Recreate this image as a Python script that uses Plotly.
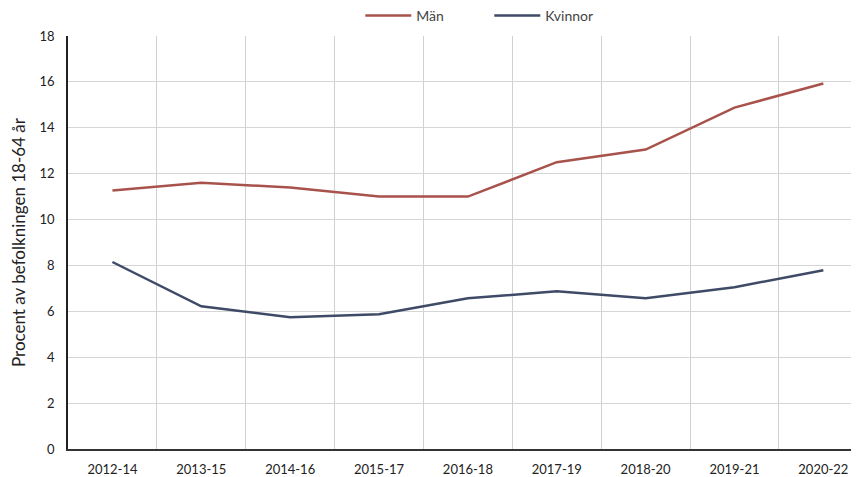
import plotly.graph_objects as go

categories = ["2012-14", "2013-15", "2014-16", "2015-17", "2016-18",
              "2017-19", "2018-20", "2019-21", "2020-22"]
man = [11.27, 11.6, 11.4, 11.0, 11.0, 12.5, 13.05, 14.88, 15.93]
kvinnor = [8.15, 6.22, 5.74, 5.87, 6.57, 6.87, 6.57, 7.05, 7.79]

FONT = "Lato"
fig = go.Figure()
fig.add_trace(go.Scatter(x=categories, y=man, name="Män", mode="lines",
                         line=dict(color="#a8524c", width=2.5)))
fig.add_trace(go.Scatter(x=categories, y=kvinnor, name="Kvinnor", mode="lines",
                         line=dict(color="#3e4a66", width=2.5)))

# page body has an 8px margin: figure is offset by 8px right/down
fig.update_layout(
    width=851, height=469,
    margin=dict(l=60, r=1, t=28, b=28, autoexpand=False),
    paper_bgcolor="white", plot_bgcolor="white",
    font=dict(family=FONT, size=13, color="#222222"),
    showlegend=True,
    legend=dict(orientation="h", x=0.37, xanchor="left", y=1.01, yanchor="bottom",
                font=dict(size=14, color="#444444"), itemwidth=46,
                entrywidth=68, entrywidthmode="pixels",
                bgcolor="rgba(0,0,0,0)"),
    xaxis=dict(type="category", range=[-0.5, 8.39], tickson="boundaries",
               showgrid=True, gridcolor="#d0d0d0", gridwidth=1,
               showline=True, linecolor="#333333", linewidth=1.5,
               ticks="", ticklabelstandoff=8, zeroline=False, automargin=False,
               tickfont=dict(size=13, color="#222222")),
    yaxis=dict(range=[0, 18], dtick=2, showgrid=True, gridcolor="#d6d6d6", gridwidth=1,
               showline=True, linecolor="#222222", linewidth=1.5, zeroline=False,
               ticks="", ticklabelstandoff=9, automargin=False,
               tickfont=dict(size=13, color="#222222"),
               title=dict(text="Procent av befolkningen 18-64 år",
                          font=dict(size=17, color="#222222"), standoff=10)),
)
fig.write_html("out.html")
